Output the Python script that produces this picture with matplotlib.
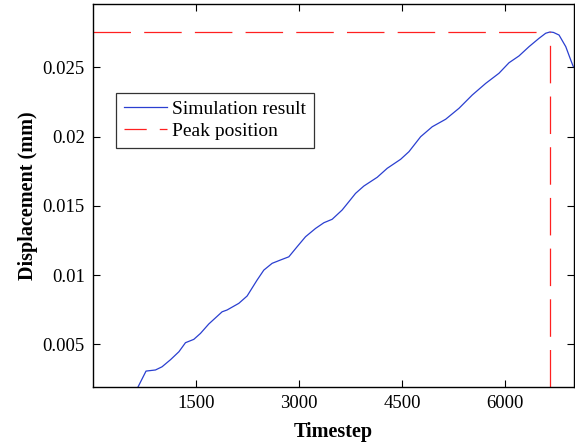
import matplotlib
matplotlib.use("Agg")
import matplotlib.pyplot as plt
from matplotlib.lines import Line2D

plt.rcParams["font.family"] = ["Liberation Serif", "DejaVu Serif"]
plt.rcParams["lines.scale_dashes"] = False

# Simulated displacement history
timestep = [600, 655, 772, 909, 1005, 1130, 1251, 1346, 1467, 1564, 1685, 1879,
            1951, 2122, 2243, 2388, 2486, 2607, 2729, 2850, 2971, 3093, 3239,
            3360, 3481, 3626, 3724, 3821, 3942, 4136, 4282, 4477, 4598, 4768,
            4937, 5132, 5326, 5519, 5715, 5908, 6054, 6199, 6345, 6490, 6588,
            6650, 6700, 6782, 6880, 6952, 6990]
displacement = [0.00138, 0.00192, 0.00307, 0.00315, 0.00338, 0.00390, 0.00447,
                0.00512, 0.00536, 0.00579, 0.00647, 0.00735, 0.00748, 0.00796,
                0.00849, 0.00964, 0.01036, 0.01085, 0.01109, 0.01132, 0.01205,
                0.01277, 0.01337, 0.01378, 0.01403, 0.01470, 0.01530, 0.01590,
                0.01643, 0.01706, 0.01771, 0.01836, 0.01891, 0.01999, 0.02071,
                0.02125, 0.02204, 0.02300, 0.02384, 0.02457, 0.02533, 0.02582,
                0.02649, 0.02709, 0.02746, 0.02755, 0.02752, 0.02733, 0.02649,
                0.02553, 0.02504]

peak_step = 6650
peak_value = 0.02755

xticks = [1500, 3000, 4500, 6000]
xtick_labels = ["1500", "3000", "4500", "6000"]
yticks = [0.005, 0.01, 0.015, 0.02, 0.025]
ytick_labels = ["0.005", "0.01", "0.015", "0.02", "0.025"]
x_limits = (0, 7000)
y_limits = (0.00192, 0.02957)

blue = "#2a3fd0"
red = "#ff2020"

fig = plt.figure(figsize=(5.75, 4.45), dpi=100)
ax = fig.add_axes([0.1617, 0.1303, 0.8366, 0.8607])

ax.plot(timestep, displacement, color=blue, lw=0.9)
ax.plot([x_limits[0], peak_step], [peak_value, peak_value], color=red,
        lw=0.9, dashes=(27, 9.5))
ax.plot([peak_step, peak_step], [y_limits[0], peak_value], color=red,
        lw=0.9, dashes=(27, 9.5))

ax.set_xlim(*x_limits)
ax.set_ylim(*y_limits)
ax.set_xticks(xticks)
ax.set_xticklabels(xtick_labels)
ax.set_yticks(yticks)
ax.set_yticklabels(ytick_labels)
ax.tick_params(direction="in", length=5, width=0.8, top=True, right=True,
               labelsize=13.5, pad=6, colors="black")
for sp in ax.spines.values():
    sp.set_linewidth(1.0)

ax.set_xlabel("Timestep", fontsize=14.5, fontweight="bold", labelpad=7)
ax.set_ylabel("Displacement (mm)", fontsize=14.5, fontweight="bold", labelpad=3)

handles = [Line2D([], [], color=blue, lw=0.9),
           Line2D([], [], color=red, lw=0.9, dashes=(16, 9.4))]
leg = ax.legend(handles, ["Simulation result", "Peak position"],
                loc="upper left", bbox_to_anchor=(0.048, 0.768), fontsize=14,
                frameon=True, fancybox=False, edgecolor="black", borderpad=0.4,
                handlelength=2.2, handletextpad=0.3, labelspacing=0.22,
                borderaxespad=0.0)
leg.get_frame().set_linewidth(0.9)

fig.savefig("out.png", dpi=100)
